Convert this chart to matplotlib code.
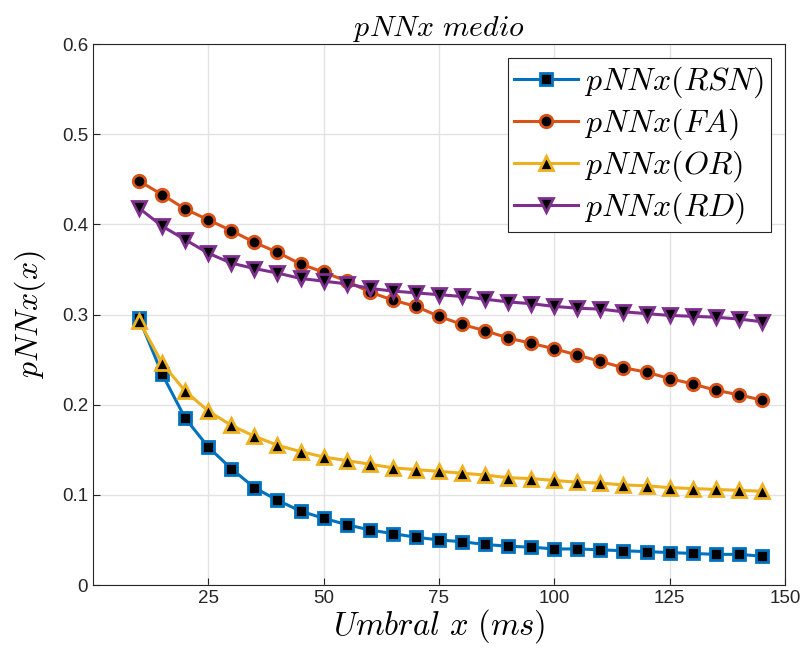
import numpy as np
import matplotlib.pyplot as plt

plt.rcParams['mathtext.fontset'] = 'cm'
plt.rcParams['font.family'] = ['Liberation Sans', 'DejaVu Sans']

# umbral x (ms)
umbral = np.arange(10, 150, 5)

pnnx_rsn = [0.296, 0.234, 0.185, 0.153, 0.129, 0.108, 0.094, 0.082, 0.074, 0.067,
            0.061, 0.057, 0.053, 0.050, 0.048, 0.045, 0.043, 0.042, 0.040, 0.040,
            0.039, 0.038, 0.037, 0.036, 0.035, 0.034, 0.034, 0.032]
pnnx_fa = [0.448, 0.433, 0.417, 0.405, 0.393, 0.380, 0.369, 0.356, 0.347, 0.337,
           0.325, 0.316, 0.309, 0.298, 0.289, 0.282, 0.274, 0.268, 0.262, 0.255,
           0.248, 0.241, 0.236, 0.229, 0.223, 0.216, 0.211, 0.205]
pnnx_or = [0.293, 0.246, 0.215, 0.193, 0.177, 0.165, 0.155, 0.148, 0.142, 0.138,
           0.134, 0.130, 0.128, 0.126, 0.124, 0.122, 0.119, 0.118, 0.116, 0.114,
           0.113, 0.111, 0.110, 0.108, 0.107, 0.106, 0.105, 0.104]
pnnx_rd = [0.418, 0.398, 0.383, 0.368, 0.357, 0.351, 0.346, 0.340, 0.337, 0.334,
           0.329, 0.326, 0.324, 0.322, 0.320, 0.317, 0.314, 0.312, 0.309, 0.307,
           0.306, 0.303, 0.301, 0.299, 0.298, 0.297, 0.295, 0.292]

series = [
    (pnnx_rsn, '#0072BD', 's', 8, r'$pNNx(RSN)$'),
    (pnnx_fa, '#D95319', 'o', 9, r'$pNNx(FA)$'),
    (pnnx_or, '#EDB120', '^', 10, r'$pNNx(OR)$'),
    (pnnx_rd, '#7E2F8E', 'v', 10, r'$pNNx(RD)$'),
]

fig = plt.figure(figsize=(8.01, 6.62), dpi=100)
ax = fig.add_axes([0.116, 0.1163, 0.864, 0.8172])

for vals, col, mk, ms, lab in series:
    ax.plot(umbral, vals, color=col, lw=2.2, marker=mk, markersize=ms,
            markerfacecolor='black', markeredgecolor=col, markeredgewidth=2,
            label=lab)

ax.set_xlim(0, 150)
ax.set_ylim(0, 0.6)
ax.set_xticks([25, 50, 75, 100, 125, 150])
ax.set_yticks(np.arange(0, 0.61, 0.1))
ax.set_yticklabels(['0', '0.1', '0.2', '0.3', '0.4', '0.5', '0.6'])
ax.grid(True, color='#e3e3e3', lw=1)
ax.set_axisbelow(True)
ax.tick_params(direction='in', labelsize=13.5, colors='#262626', length=5)
for s in ax.spines.values():
    s.set_color('#262626')
    s.set_linewidth(0.8)

ax.set_title(r'$pNNx\ medio$', fontsize=21.5, pad=5)
ax.set_xlabel(r'$Umbral\ x\ (ms)$', fontsize=23.5, labelpad=0)
ax.set_ylabel(r'$pNNx(x)$', fontsize=23, labelpad=10)

leg = ax.legend(loc='upper right', fontsize=23, handlelength=2.0,
                fancybox=False, edgecolor='#262626', framealpha=1,
                borderpad=0.2, labelspacing=0.2, handletextpad=0.2,
                borderaxespad=0.45)
leg.get_frame().set_linewidth(0.8)

fig.savefig('out.png', dpi=100)
